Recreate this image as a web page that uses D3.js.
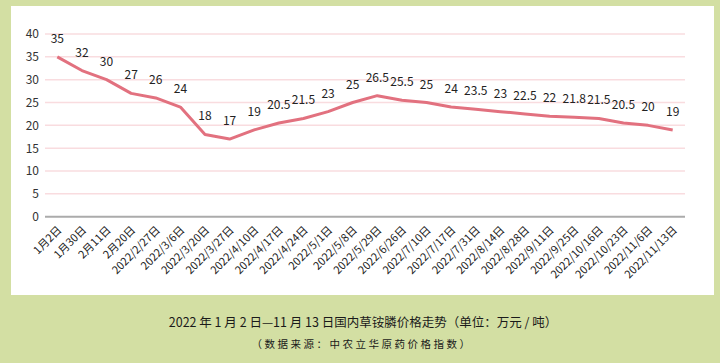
<!DOCTYPE html>
<html><head><meta charset="utf-8">
<script src="https://cdn.jsdelivr.net/npm/d3@7"></script>
<style>
html,body{margin:0;padding:0;background:#d3dfa3;}
svg{display:block;}
</style></head>
<body>
<svg id="chart" width="720" height="363"></svg>
<script>
const categories = ["1月2日","1月30日","2月11日","2月20日","2022/2/27日","2022/3/6日","2022/3/20日","2022/3/27日","2022/4/10日","2022/4/17日","2022/4/24日","2022/5/1日","2022/5/8日","2022/5/29日","2022/6/26日","2022/7/10日","2022/7/17日","2022/7/31日","2022/8/14日","2022/8/28日","2022/9/11日","2022/9/25日","2022/10/16日","2022/10/23日","2022/11/6日","2022/11/13日"];
const prices = [35,32,30,27,26,24,18,17,19,20.5,21.5,23,25,26.5,25.5,25,24,23.5,23,22.5,22,21.8,21.5,20.5,20,19];
const yTicks = [0,5,10,15,20,25,30,35,40];
const titleText = "2022 年 1 月 2 日—11 月 13 日国内草铵膦价格走势（单位：万元 / 吨）";
const sourceText = "（数据来源：中农立华原药价格指数）";

const svg = d3.select("#chart");
svg.append("rect").attr("x",0).attr("y",0).attr("width",720).attr("height",363).attr("fill","#d3dfa3");
svg.append("rect").attr("x",11).attr("y",6).attr("width",703).attr("height",289).attr("fill","#ffffff");

const font = "'Noto Sans CJK SC','Noto Sans',sans-serif";
const x = d3.scaleBand().domain(categories).range([45,685]);
const y = d3.scaleLinear().domain([0,40]).range([216.7,34]);

// grid
svg.append("g").selectAll("line").data(yTicks.filter(d=>d>0)).join("line")
  .attr("x1",45).attr("x2",685).attr("y1",d=>y(d)).attr("y2",d=>y(d))
  .attr("stroke","#f9dcdf").attr("stroke-width",1.5);

// y axis labels
const yAxis = d3.axisLeft(y).tickValues(yTicks).tickSize(0).tickPadding(0);
const gy = svg.append("g").attr("transform","translate(39,0)").call(yAxis);
gy.select(".domain").remove();
gy.selectAll("text").attr("font-family",font).attr("font-size",12).attr("fill","#333");

// baseline
svg.append("line").attr("x1",45).attr("x2",685).attr("y1",y(0)).attr("y2",y(0))
  .attr("stroke","#ababab").attr("stroke-width",2);

// x axis labels
const xAxis = d3.axisBottom(x).tickSize(0).tickPadding(0);
const gx = svg.append("g").attr("transform",`translate(0,${y(0)})`).call(xAxis);
gx.select(".domain").remove();
gx.selectAll("text")
  .attr("font-family",font).attr("font-size",11).attr("fill","#222")
  .attr("text-anchor","end").attr("dy",null).attr("y",0)
  .attr("transform","translate(5,14) rotate(-45)");

// line
const line = d3.line().x((d,i)=>x(categories[i])+x.bandwidth()/2).y(d=>y(d));
svg.append("path").datum(prices).attr("d",line)
  .attr("fill","none").attr("stroke","#e2717f").attr("stroke-width",3).attr("stroke-linejoin","round");

// data labels
svg.append("g").selectAll("text").data(prices).join("text")
  .attr("x",(d,i)=>x(categories[i])+x.bandwidth()/2)
  .attr("y",d=>y(d)-14)
  .attr("text-anchor","middle")
  .attr("font-family",font).attr("font-size",12).attr("fill","#222")
  .text(d=>d);

// title
svg.append("text").attr("x",363).attr("y",327).attr("text-anchor","middle")
  .attr("font-family",font).attr("font-size",12.5).attr("fill","#1a1a1a").text(titleText);
svg.append("text").attr("x",362).attr("y",348).attr("text-anchor","middle")
  .attr("font-family",font).attr("font-size",10.5).attr("letter-spacing",2.5).attr("fill","#1a1a1a").text(sourceText);
</script>
</body></html>
